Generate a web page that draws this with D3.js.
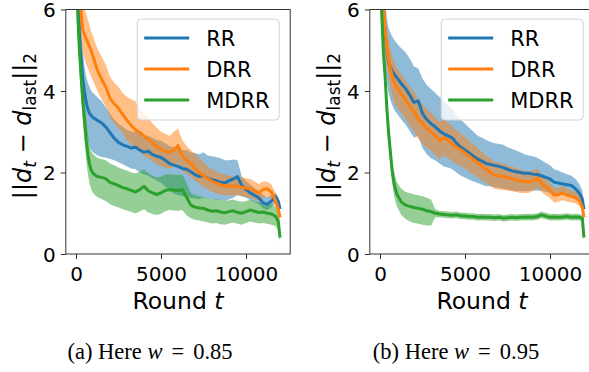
<!DOCTYPE html>
<html><head><meta charset="utf-8">
<script src="https://cdn.jsdelivr.net/npm/d3@7"></script>
<style>body{margin:0;background:#fff} svg{display:block}</style>
</head><body><svg id="c" width="589" height="372"></svg>
<script>
// ---------- DATA ----------
const rounds = [0,100,200,300,400,500,600,700,800,900,1000,
 1250,1500,1750,2000,2250,2500,2750,3000,3250,3500,
 3750,4000,4250,4500,4750,5000,5250,5500,5750,6000,
 6250,6500,6750,7000,7250,7500,7750,8000,8250,8500,
 8750,9000,9250,9500,9750,10000,10250,10500,10750,11000,
 11250,11500,11750,11900,12000];
const seriesNames = ["RR","DRR","MDRR"];
const xTicks = [0,5000,10000];
const yTicks = [0,2,4,6];
const captionLabels = ["(a)","(b)"];
const wValues = ["0.85","0.95"];

// Panel (a) w = 0.85
const a_RR_mean = [8.0,6.6,5.4,4.8,4.3,3.98,3.72,3.55,3.45,3.4,3.35,
 3.28,3.22,3.12,2.98,2.84,2.74,2.68,2.64,2.6,2.62,
 2.55,2.5,2.52,2.44,2.4,2.37,2.3,2.22,2.18,2.15,
 2.1,2.08,2.02,1.95,1.9,1.92,1.86,1.82,1.8,1.76,
 1.74,1.8,1.84,1.9,1.68,1.58,1.5,1.44,1.38,1.26,
 1.22,1.3,1.4,1.3,1.1];
const a_RR_hi = [8.6,7.2,6.2,5.5,5.0,4.6,4.35,4.2,4.1,4.0,3.95,
 3.85,3.75,3.6,3.45,3.3,3.2,3.12,3.05,3.0,3.0,
 2.95,2.9,2.9,2.85,2.8,2.78,2.72,2.65,2.62,2.6,
 2.55,2.55,2.5,2.48,2.45,2.5,2.42,2.4,2.38,2.35,
 2.3,2.3,2.32,2.3,1.9,1.8,1.7,1.62,1.55,1.45,
 1.4,1.45,1.5,1.4,1.2];
const a_RR_lo = [7.4,6.0,4.8,4.2,3.7,3.3,3.0,2.8,2.65,2.55,2.5,
 2.42,2.38,2.36,2.34,2.3,2.25,2.2,2.15,2.1,2.08,
 2.0,1.95,1.92,1.86,1.8,1.75,1.65,1.55,1.48,1.45,
 1.42,1.4,1.38,1.36,1.35,1.38,1.36,1.34,1.33,1.32,
 1.3,1.34,1.38,1.45,1.42,1.38,1.32,1.28,1.22,1.12,
 1.08,1.15,1.25,1.15,0.95];
const a_DRR_mean = [9.5,8.0,6.7,5.9,5.5,5.38,5.28,5.18,5.08,4.98,4.85,
 4.52,4.3,4.1,3.82,3.68,3.58,3.42,3.28,3.15,3.05,
 2.98,2.9,2.82,2.72,2.64,2.56,2.52,2.5,2.55,2.66,
 2.42,2.3,2.22,2.1,2.0,1.92,1.85,1.78,1.74,1.7,
 1.67,1.67,1.66,1.66,1.64,1.62,1.6,1.55,1.5,1.58,
 1.6,1.52,1.3,1.1,0.9];
const a_DRR_hi = [10,8.6,7.3,6.5,6.2,6.0,5.9,5.75,5.6,5.45,5.35,
 5.05,4.85,4.65,4.35,4.2,4.1,3.95,3.85,3.8,3.75,
 3.55,3.45,3.35,3.2,3.1,3.0,2.95,2.9,3.0,3.08,
 2.8,2.65,2.55,2.45,2.35,2.25,2.15,2.08,2.02,1.98,
 1.95,1.92,1.9,1.9,1.88,1.86,1.84,1.78,1.72,1.78,
 1.78,1.7,1.5,1.28,1.05];
const a_DRR_lo = [9,7.4,6.1,5.3,4.95,4.8,4.65,4.55,4.45,4.35,4.25,
 4.0,3.8,3.62,3.35,3.2,3.1,2.95,2.8,2.68,2.6,
 2.5,2.42,2.35,2.28,2.2,2.15,2.12,2.1,2.15,2.25,
 2.05,1.95,1.9,1.8,1.72,1.65,1.58,1.52,1.5,1.46,
 1.44,1.44,1.44,1.44,1.42,1.4,1.38,1.34,1.3,1.38,
 1.42,1.35,1.12,0.92,0.75];
const a_MDRR_mean = [7.5,5.9,5.0,4.35,3.75,3.28,2.8,2.45,2.2,2.05,1.98,
 1.9,1.88,1.85,1.76,1.72,1.68,1.63,1.6,1.56,1.52,
 1.58,1.66,1.55,1.5,1.46,1.5,1.56,1.58,1.57,1.56,
 1.58,1.4,1.2,1.15,1.13,1.12,1.08,1.05,1.06,1.03,
 1.01,1.04,1.06,1.02,1.0,1.04,1.08,1.05,1.02,1.03,
 1.0,0.98,0.92,0.8,0.4];
const a_MDRR_hi = [8,6.4,5.5,4.85,4.25,3.78,3.3,2.95,2.68,2.52,2.45,
 2.36,2.33,2.3,2.22,2.18,2.12,2.08,2.05,2.0,1.98,
 2.02,2.08,1.98,1.92,1.88,1.9,1.95,1.96,1.95,1.94,
 1.95,1.75,1.5,1.45,1.42,1.4,1.37,1.34,1.35,1.32,
 1.3,1.32,1.34,1.3,1.28,1.3,1.33,1.3,1.27,1.27,
 1.24,1.22,1.15,1.0,0.55];
const a_MDRR_lo = [7,5.4,4.5,3.85,3.25,2.78,2.3,1.95,1.72,1.58,1.5,
 1.4,1.35,1.3,1.22,1.18,1.14,1.1,1.07,1.03,1.0,
 1.04,1.1,1.02,0.98,0.96,0.99,1.05,1.08,1.07,1.06,
 1.08,0.95,0.88,0.84,0.82,0.8,0.77,0.75,0.76,0.73,
 0.72,0.75,0.77,0.74,0.72,0.76,0.8,0.77,0.75,0.76,
 0.74,0.72,0.68,0.58,0.3];

// Panel (b) w = 0.95
const b_RR_mean = [8.5,7.0,6.0,5.4,5.0,4.72,4.6,4.5,4.44,4.38,4.32,
 4.18,4.06,3.9,3.72,3.76,3.45,3.3,3.2,3.12,3.02,
 2.95,2.9,2.85,2.72,2.62,2.55,2.48,2.4,2.33,2.28,
 2.22,2.2,2.17,2.15,2.12,2.08,2.04,2.02,2.0,1.98,
 1.98,1.96,1.95,1.92,1.88,1.84,1.76,1.74,1.72,1.7,
 1.68,1.6,1.48,1.35,1.1];
const b_RR_hi = [9.3,7.8,6.8,6.2,5.8,5.55,5.45,5.35,5.28,5.22,5.16,
 5.05,4.95,4.8,4.6,4.55,4.3,4.15,4.05,3.95,3.85,
 3.75,3.65,3.55,3.4,3.3,3.2,3.1,3.0,2.9,2.85,
 2.8,2.75,2.72,2.7,2.68,2.62,2.58,2.54,2.5,2.45,
 2.42,2.4,2.36,2.3,2.24,2.18,2.08,2.04,2.0,1.96,
 1.92,1.84,1.7,1.55,1.25];
const b_RR_lo = [7.7,6.2,5.2,4.6,4.2,3.95,3.8,3.68,3.58,3.5,3.45,
 3.3,3.18,3.02,2.85,2.9,2.6,2.45,2.35,2.3,2.22,
 2.15,2.12,2.08,2.0,1.92,1.88,1.82,1.78,1.74,1.7,
 1.66,1.66,1.64,1.62,1.6,1.58,1.56,1.54,1.54,1.54,
 1.55,1.55,1.56,1.55,1.53,1.5,1.46,1.46,1.46,1.46,
 1.44,1.38,1.28,1.16,0.95];
const b_DRR_mean = [9.0,7.5,6.3,5.5,5.05,4.78,4.58,4.4,4.26,4.15,4.08,
 3.94,3.78,3.62,3.5,3.3,3.2,3.08,3.0,2.9,2.78,
 2.86,2.79,2.7,2.62,2.56,2.48,2.4,2.32,2.24,2.16,
 2.08,2.0,1.93,1.92,1.9,1.88,1.85,1.82,1.79,1.78,
 1.76,1.8,1.86,1.74,1.64,1.56,1.44,1.46,1.5,1.44,
 1.42,1.38,1.3,1.15,0.9];
const b_DRR_hi = [9.5,8.0,6.8,6.0,5.5,5.25,5.05,4.88,4.74,4.63,4.55,
 4.42,4.26,4.1,3.98,3.78,3.68,3.56,3.46,3.36,3.24,
 3.3,3.22,3.12,3.03,2.96,2.87,2.78,2.69,2.6,2.51,
 2.42,2.34,2.26,2.24,2.22,2.19,2.15,2.11,2.07,2.05,
 2.02,2.05,2.1,1.96,1.84,1.75,1.62,1.63,1.66,1.6,
 1.57,1.52,1.43,1.28,1.0];
const b_DRR_lo = [8.5,7.0,5.8,5.0,4.6,4.3,4.1,3.92,3.78,3.67,3.6,
 3.46,3.3,3.14,3.02,2.82,2.72,2.6,2.54,2.44,2.32,
 2.42,2.36,2.28,2.21,2.16,2.09,2.02,1.95,1.88,1.81,
 1.74,1.66,1.6,1.58,1.57,1.56,1.54,1.52,1.5,1.5,
 1.5,1.55,1.62,1.52,1.44,1.37,1.26,1.29,1.32,1.28,
 1.27,1.24,1.17,1.02,0.8];
const b_MDRR_mean = [7.5,5.9,4.95,4.35,3.6,3.0,2.55,2.1,1.8,1.6,1.46,
 1.28,1.2,1.17,1.14,1.12,1.1,1.06,1.04,1.0,0.98,
 0.97,0.96,0.95,0.96,0.94,0.93,0.92,0.92,0.9,0.91,
 0.9,0.9,0.89,0.9,0.88,0.89,0.9,0.89,0.9,0.9,
 0.91,0.9,0.92,0.96,0.93,0.9,0.91,0.9,0.91,0.92,
 0.9,0.91,0.9,0.88,0.4];
const b_MDRR_hi = [7.8,6.2,5.25,4.65,3.9,3.3,2.85,2.4,2.1,1.9,1.76,
 1.6,1.52,1.5,1.46,1.44,1.42,1.38,1.34,1.1,1.06,
 1.05,1.04,1.03,1.04,1.02,1.01,1.0,1.0,0.98,0.99,
 0.98,0.98,0.97,0.98,0.96,0.97,0.98,0.97,0.98,0.98,
 0.99,0.98,1.0,1.04,1.01,0.98,0.99,0.98,0.99,1.0,
 0.98,0.99,0.98,0.96,0.45];
const b_MDRR_lo = [7.2,5.6,4.65,4.05,3.3,2.7,2.25,1.8,1.5,1.3,1.16,
 0.96,0.86,0.8,0.76,0.74,0.72,0.7,0.7,0.9,0.9,
 0.89,0.88,0.87,0.88,0.86,0.85,0.84,0.84,0.82,0.83,
 0.82,0.82,0.81,0.82,0.8,0.81,0.82,0.81,0.82,0.82,
 0.83,0.82,0.84,0.88,0.85,0.82,0.83,0.82,0.83,0.84,
 0.82,0.83,0.82,0.8,0.35];

// ---------- DRAWING ----------
const colors = ["#1f77b4","#ff7f0e","#2ca02c"];
const svg = d3.select("#c");
const FONT = "DejaVu Sans, sans-serif";
const SERIF = "Liberation Serif, Times New Roman, serif";
const panels = [
  {left:65.8, cap:150, series:[[a_RR_mean,a_RR_lo,a_RR_hi],[a_DRR_mean,a_DRR_lo,a_DRR_hi],[a_MDRR_mean,a_MDRR_lo,a_MDRR_hi]]},
  {left:369.8, cap:456, series:[[b_RR_mean,b_RR_lo,b_RR_hi],[b_DRR_mean,b_DRR_lo,b_DRR_hi],[b_MDRR_mean,b_MDRR_lo,b_MDRR_hi]]}
];
const W = 224.4, TOP = 9.5, BOT = 254;

panels.forEach((p, pi) => {
  const x = d3.scaleLinear().domain([-600, 12600]).range([p.left, p.left + W]);
  const y = d3.scaleLinear().domain([0, 6]).range([BOT, TOP]);
  const g = svg.append("g");
  const cid = "clip" + pi;
  svg.append("clipPath").attr("id", cid).append("rect")
    .attr("x", p.left).attr("y", TOP).attr("width", W).attr("height", BOT - TOP);
  const plot = g.append("g").attr("clip-path", `url(#${cid})`);

  p.series.forEach((s, si) => {
    const area = d3.area().x((d, i) => x(rounds[i])).y0((d, i) => y(s[1][i])).y1((d, i) => y(s[2][i]));
    plot.append("path").attr("d", area(rounds)).attr("fill", colors[si]).attr("fill-opacity", 0.5);
  });
  p.series.forEach((s, si) => {
    const line = d3.line().x((d, i) => x(rounds[i])).y((d, i) => y(s[0][i]));
    plot.append("path").attr("d", line(rounds)).attr("fill", "none")
      .attr("stroke", colors[si]).attr("stroke-width", 3).attr("stroke-linejoin", "round");
  });

  // axes
  const ax = g.append("g").attr("transform", `translate(0,${BOT})`)
    .call(d3.axisBottom(x).tickValues(xTicks).tickFormat(d3.format("d")).tickSize(5).tickPadding(8));
  const ay = g.append("g").attr("transform", `translate(${p.left},0)`)
    .call(d3.axisLeft(y).tickValues(yTicks).tickFormat(d3.format("d")).tickSize(5).tickPadding(5));
  [ax, ay].forEach(a => {
    a.select(".domain").remove();
    a.selectAll("line").attr("stroke", "#333").attr("stroke-width", 1);
    a.selectAll("text").attr("font-family", FONT).attr("font-size", 20).attr("fill", "#000");
  });
  ay.selectAll(".tick text").attr("dy", "0.36em");
  g.append("rect").attr("x", p.left).attr("y", TOP).attr("width", W).attr("height", BOT - TOP)
    .attr("fill", "none").attr("stroke", "#333").attr("stroke-width", 1);

  // x label
  const xl = g.append("text").attr("x", p.left + W / 2).attr("y", 309)
    .attr("text-anchor", "middle").attr("font-family", FONT).attr("font-size", 23.5);
  xl.append("tspan").text("Round ");
  xl.append("tspan").attr("font-style", "italic").text("t");

  // y label
  const yl = g.append("text").attr("transform", `translate(${p.left - 35},126) rotate(-90)`)
    .attr("text-anchor", "middle").attr("font-family", FONT).attr("font-size", 24);
  yl.append("tspan").text("||");
  yl.append("tspan").attr("font-style", "italic").text("d");
  yl.append("tspan").attr("font-style", "italic").attr("font-size", 17).attr("dy", 5).text("t");
  yl.append("tspan").attr("dy", -5).text(" \u2212 ");
  yl.append("tspan").attr("font-style", "italic").text("d");
  yl.append("tspan").attr("font-size", 17).attr("dy", 5).text("last");
  yl.append("tspan").attr("dy", -5).text("||");
  yl.append("tspan").attr("font-size", 17).attr("dy", 5).text("2");

  // legend
  const lx = p.left + W - 11 - 142, ly = 19;
  const lg = g.append("g");
  lg.append("rect").attr("x", lx).attr("y", ly).attr("width", 142).attr("height", 101)
    .attr("rx", 4).attr("fill", "#fff").attr("fill-opacity", 0.8)
    .attr("stroke", "#d3d3d3").attr("stroke-width", 1);
  seriesNames.forEach((n, i) => {
    const yy = ly + 19 + i * 31;
    lg.append("line").attr("x1", lx + 7).attr("x2", lx + 52).attr("y1", yy).attr("y2", yy)
      .attr("stroke", colors[i]).attr("stroke-width", 3);
    lg.append("text").attr("x", lx + 69).attr("y", yy + 7.5).attr("font-family", FONT)
      .attr("font-size", 21).text(n);
  });

  // caption
  const cp = svg.append("text").attr("x", p.cap).attr("y", 359).attr("text-anchor", "middle")
    .attr("font-family", SERIF).attr("font-size", 22.5);
  cp.append("tspan").text(captionLabels[pi] + " Here ");
  cp.append("tspan").attr("font-style", "italic").text("w");
  cp.append("tspan").attr("dx", 9).text("=");
  cp.append("tspan").attr("dx", 9).text(wValues[pi]);
});
</script></body></html>
